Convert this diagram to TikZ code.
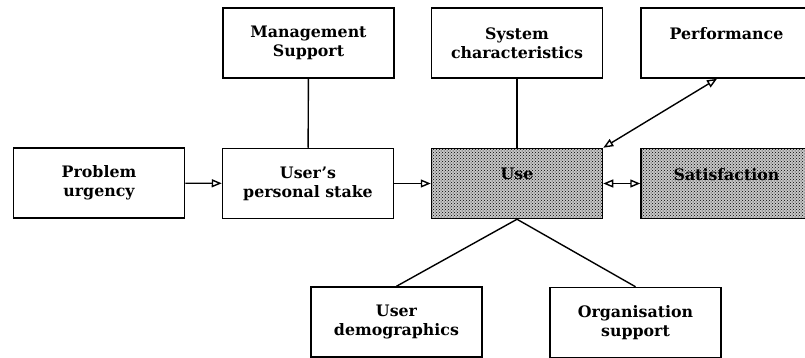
\documentclass[tikz,border=0pt]{standalone}
\usepackage{fontspec}
\setmainfont{DejaVu Serif}
\usetikzlibrary{arrows.meta,patterns}
\begin{document}
\begin{tikzpicture}[x=1pt,y=-1pt,
  box/.style={draw, line width=1.5pt, minimum width=171pt, minimum height=70pt,
    inner sep=0pt, align=center, font=\bfseries\fontsize{15.8}{19}\selectfont},
  shaded/.style={box, fill=black!22, postaction={pattern=crosshatch dots}},
  link/.style={line width=1.4pt},
  opentip/.style={-{Triangle[open,length=10pt,width=8pt]}},
  bothtips/.style={{Triangle[open,length=10pt,width=8pt]}-{Triangle[open,length=10pt,width=8pt]}},
]
\useasboundingbox (0,0) rectangle (805,358);
\clip (0,0) rectangle (805,358);

% top row
\node[box] (mgmt) at (308.5,43) {Management\\Support};
\node[box] (sys)  at (517,43)   {System\\characteristics};
\node[box] (perf) at (726.5,43) {Performance\\\mbox{}};

% middle row
\node[box] (prob)  at (99,183)    {Problem\\urgency};
\node[box] (stake) at (308,183.5) {User’s\\personal stake};
\node[shaded] (use) at (517,183.5) {Use\\\mbox{}};
\node[shaded] (sat) at (726.5,183.5) {Satisfaction\\\mbox{}};

% bottom row
\node[box] (demo) at (396.5,322) {User\\demographics};
\node[box] (org)  at (635.5,322.5) {Organisation\\support};

% connectors
\coordinate (perfin) at ([xshift=-9.5pt]perf.south);
\draw[link,opentip] (prob) -- (stake);
\draw[link,opentip] (stake) -- (use);
\draw[link] (mgmt) -- (stake);
\draw[link] (sys) -- (use);
\draw[link,bothtips] (use.north east) -- (perfin);
\draw[link,bothtips] (use) -- (sat);
\draw[link] (use.south) -- (demo.north);
\draw[link] (use.south) -- (org.north);
\end{tikzpicture}
\end{document}
